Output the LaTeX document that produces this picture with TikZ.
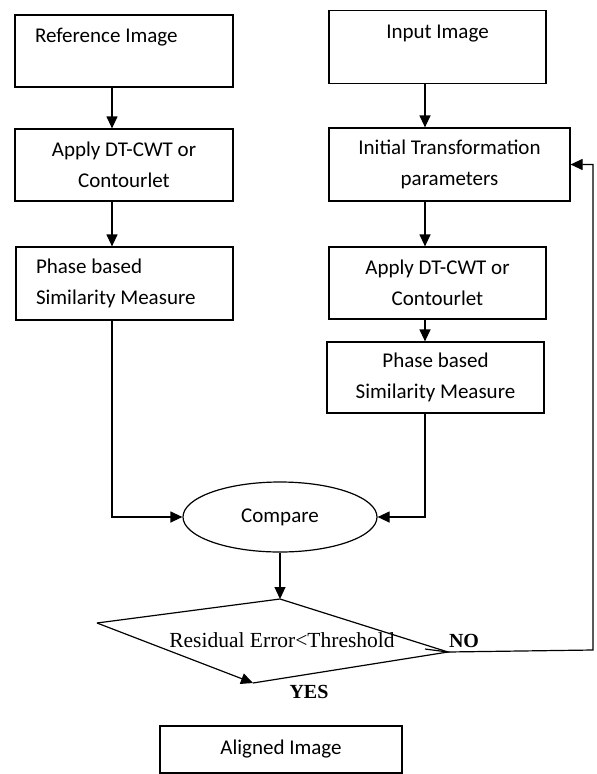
\documentclass[tikz,border=0pt]{standalone}
\usepackage{fontspec}
\setmainfont{Carlito}
\newfontfamily\timesrm{Liberation Serif}
\usetikzlibrary{arrows.meta,shapes.geometric,positioning}

\tikzset{
  box/.style={draw,rectangle,line width=1.2pt,inner sep=0pt,align=center,
    font=\fontsize{21}{31}\selectfont},
  lbox/.style={box,align=flush left,inner xsep=20pt},
  arr/.style={-{Triangle[length=12pt,width=11pt]},line width=1.2pt},
  rmlbl/.style={font=\timesrm\fontsize{21.5}{24}\selectfont},
  rmbold/.style={font=\timesrm\bfseries\fontsize{20}{24}\selectfont},
}

\begin{document}
\begin{tikzpicture}[x=1pt,y=-1pt]
\useasboundingbox (0,0) rectangle (597,774);
% left column
\node[lbox,minimum width=218pt,minimum height=72pt,text width=178pt] (refimg) at (124,51) {Reference Image\\~};
\node[box,minimum width=218pt,minimum height=72pt] (lapply) at (124,165) {Apply DT-CWT or\\Contourlet};
\node[lbox,minimum width=217pt,minimum height=73pt,text width=177pt] (lphase) at (124.5,283.5) {Phase based\\Similarity Measure};
% right column
\node[box,minimum width=217pt,minimum height=73pt] (inimg) at (437.5,47) {Input Image\\~};
\node[box,minimum width=241pt,minimum height=73pt] (init) at (449.5,164.5) {Initial Transformation\\parameters};
\node[box,minimum width=217pt,minimum height=72pt] (rapply) at (437.5,283) {Apply DT-CWT or\\Contourlet};
\node[box,minimum width=217pt,minimum height=71pt] (rphase) at (435.5,377.5) {Phase based\\Similarity Measure};
% compare and check
\node[draw,ellipse,line width=1.2pt,minimum width=194pt,minimum height=70pt,inner sep=0pt,
  font=\fontsize{21}{24}\selectfont] (cmp) at (280,517) {Compare};
\coordinate (dtop) at (280,599);
\coordinate (dleft) at (97,623);
\coordinate (dbot) at (253,683);
\coordinate (dright) at (448,652);
\node[rmlbl] (chk) at (282,640) {Residual Error<Threshold};
\node[rmbold] (no) at (464,641) {NO};
\node[rmbold] (yes) at (309,692) {YES};
\node[box,minimum width=242pt,minimum height=47pt] (aligned) at (281,749.5) {Aligned Image};

\coordinate (lcol) at (112,0);
\coordinate (rcol) at (425,0);
\coordinate (fb) at (593,650);

\draw[arr] (refimg.south -| lcol) -- (lapply.north -| lcol);
\draw[arr] (lapply.south -| lcol) -- (lphase.north -| lcol);
\draw[arr] (inimg.south -| rcol) -- (init.north -| rcol);
\draw[arr] (init.south -| rcol) -- (rapply.north -| rcol);
\draw[arr] (rapply.south -| rcol) -- (rphase.north -| rcol);
\draw[arr] (lphase.south -| lcol) |- (cmp.west);
\draw[arr] (rphase.south -| rcol) |- (cmp.east);
\draw[arr] (cmp.south) -- (dtop);
\draw[line width=1.2pt] (dleft) -- (dtop) -- (dright) -- (dbot);
\draw[line width=1.2pt] (dright) -- ++(-23,-3);
\draw[arr] (dleft) -- (dbot);
\draw[arr] (dright) -- (fb) |- (init.east);
\end{tikzpicture}
\end{document}
